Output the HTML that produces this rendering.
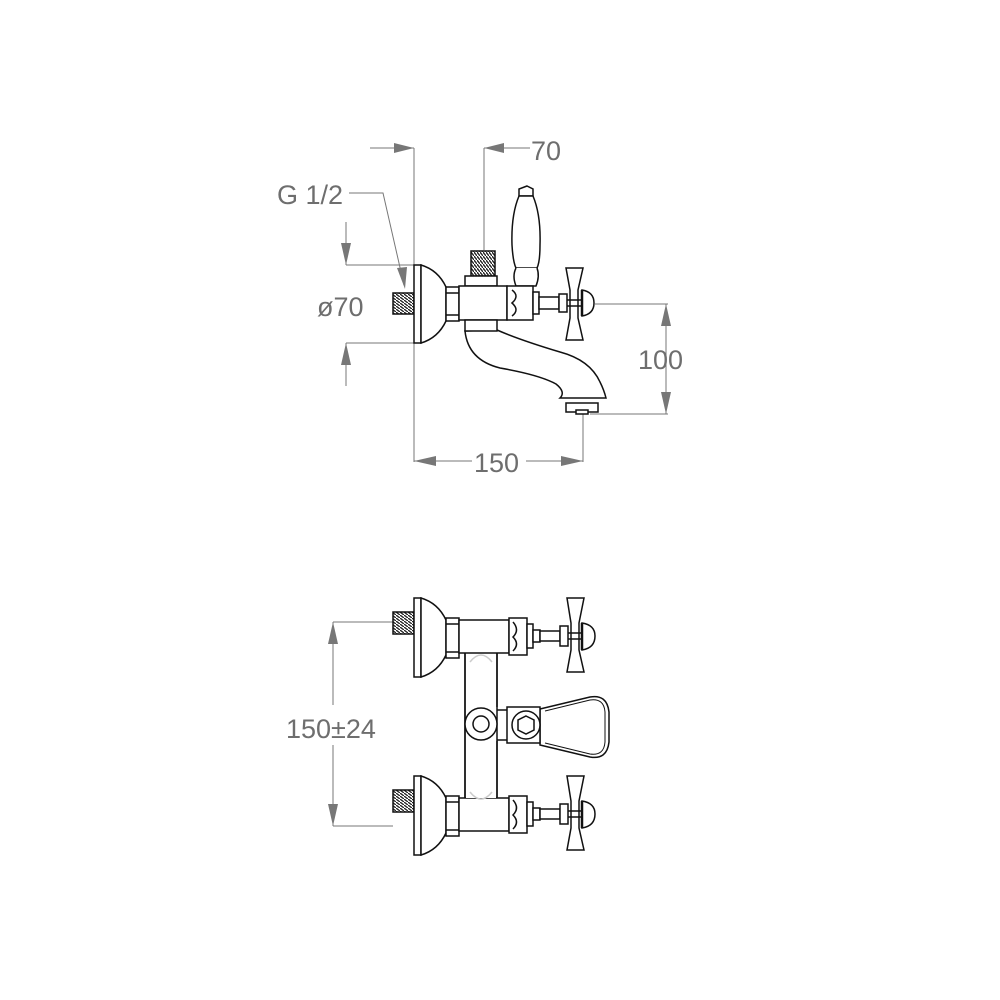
<!DOCTYPE html>
<html><head><meta charset="utf-8"><style>
html,body{margin:0;padding:0;background:#fff}
svg{display:block}
text{font-family:"Liberation Sans",Arial,sans-serif;fill:#6e6e6e;font-size:27px}
</style></head><body>
<svg width="1000" height="1000" viewBox="0 0 1000 1000" xmlns="http://www.w3.org/2000/svg">
<defs>
<pattern id="th" width="3" height="4" patternUnits="userSpaceOnUse"><rect width="3" height="4" fill="#fff"/><path d="M0,0 L3,4" stroke="#222" stroke-width="1.3"/></pattern>
<pattern id="thv" width="4" height="3" patternUnits="userSpaceOnUse"><rect width="4" height="3" fill="#fff"/><path d="M0,0 L4,3" stroke="#222" stroke-width="1.3"/></pattern>
</defs>
<g stroke="#777" stroke-width="1" fill="none">
<path d="M414,148 V462"/>
<path d="M370,148 H414"/>
<path d="M484,148 H530 M484,148 V250"/>
<path d="M349,193 H383 L404,285"/>
<path d="M346,222 V265 M346,265 H414 M346,343 H414 M346,343 V386"/>
<path d="M595,304 H668 M590,414 H668 M666,304 V414"/>
<path d="M414,461 H472 M526,461 H583 M583,414 V462"/>
<path d="M333,622 H393 M333,826 H393 M333,622 V705 M333,745 V826"/>
</g>
<g fill="#777">
<polygon points="414,148 394,143 394,153"/>
<polygon points="484,148 504,143 504,153"/>
<polygon points="405,289 397,268 407,267"/>
<polygon points="346,265 341,243 351,243"/>
<polygon points="346,343 341,365 351,365"/>
<polygon points="666,304 661,326 671,326"/>
<polygon points="666,414 661,392 671,392"/>
<polygon points="414,461 436,456 436,466"/>
<polygon points="583,461 561,456 561,466"/>
<polygon points="333,622 328,644 338,644"/>
<polygon points="333,826 328,804 338,804"/>
</g>
<text x="531" y="160">70</text>
<text x="277" y="204">G 1/2</text>
<text x="317" y="316">ø70</text>
<text x="638" y="369">100</text>
<text x="474" y="472">150</text>
<text x="286" y="738">150±24</text>

<g stroke="#111" stroke-width="1.5" fill="#fff">
<rect x="393" y="293" width="21" height="21" fill="url(#thv)"/>
<rect x="414" y="265" width="7" height="78"/>
<path d="M421,265 Q438,270 446,287 V321 Q438,338 421,343 Z"/>
<rect x="446" y="287" width="13" height="34"/>
<path d="M446,293 H459 M446,315 H459" fill="none"/>
<rect x="471" y="251" width="24" height="25" fill="url(#th)"/>
<rect x="465" y="276" width="32" height="10"/>
<path d="M465,331 Q468,360 500,368 Q540,375 556,384 Q566,392 560,398 H606 Q604,390 600,382 Q590,360 560,352 Q520,340 497,330 Z"/>
<rect x="459" y="286" width="48" height="34"/>
<rect x="465" y="320" width="32" height="11"/>
<path d="M527,186 L533,189 V196 H519 V189 Z"/>
<path d="M519,196 Q511,215 512,245 Q513,262 516,268 H537 Q540,262 540,245 Q541,215 533,196 Z"/>
<path d="M516,268 Q512,276 516,286 H536 Q540,276 537,268"/>
<rect x="507" y="286" width="26" height="34"/>
<path d="M512,290 Q520,296 512,303 Q520,310 512,316" fill="none"/>
<rect x="533" y="292" width="6" height="22"/>
<rect x="539" y="297" width="20" height="12"/>
<rect x="559" y="294" width="8" height="18"/>
<path d="M566,268 H583 L578,290 V318 L583,340 H566 L570,318 V290 Z"/>
<path d="M582,290 Q594,292 594,303 Q594,314 582,316 Z"/>
<path d="M582,290 V316" stroke-width="2.5"/>
<path d="M567,300 H582 M567,306 H582" fill="none"/>
<rect x="566" y="403" width="32" height="9"/>
<rect x="576" y="410" width="12" height="4"/>
</g>

<g stroke="#111" stroke-width="1.5" fill="#fff">
<rect x="465" y="652" width="32" height="150"/>
<path d="M540,709 L590,697 Q607,694 609,712 V742 Q607,760 590,757 L540,745 Z"/>
<path d="M545,711 L590,700 Q604,698 605,712 V742 Q604,756 590,754 L545,743" fill="none" stroke-width="1"/>
<rect x="507" y="707" width="33" height="36"/>
<path d="M497,710 H507 M497,740 H507" fill="none"/>
<circle cx="526" cy="725" r="14"/>
<polygon points="526,716 534,720 534,730 526,734 518,730 518,720"/>
</g>
<g stroke="#111" stroke-width="1.5" fill="#fff">
<rect x="393" y="612" width="21" height="22" fill="url(#thv)"/>
<rect x="414" y="598" width="7" height="79"/>
<path d="M421,598 Q438,603 446,620 V655 Q438,672 421,677 Z"/>
<rect x="446" y="618" width="13" height="40"/>
<path d="M446,624 H459 M446,652 H459" fill="none"/>
<rect x="459" y="620" width="50" height="33"/>
<rect x="509" y="618" width="18" height="37"/>
<path d="M513,622 Q520,630 513,637 Q520,644 513,651" fill="none"/>
<rect x="527" y="624" width="6" height="24"/>
<rect x="533" y="630" width="7" height="12"/>
<rect x="540" y="631" width="20" height="10"/>
<rect x="560" y="626" width="8" height="20"/>
<path d="M567,598 H584 L579,623 V650 L584,672 H567 L571,650 V623 Z"/>
<path d="M582,623 Q595,625 595,636 Q595,648 582,650 Z"/>
<path d="M582,623 V650" stroke-width="2.5"/>
<path d="M568,633 H582 M568,639 H582" fill="none"/>
</g>
<g stroke="#111" stroke-width="1.5" fill="#fff" transform="translate(0,178)">
<rect x="393" y="612" width="21" height="22" fill="url(#thv)"/>
<rect x="414" y="598" width="7" height="79"/>
<path d="M421,598 Q438,603 446,620 V655 Q438,672 421,677 Z"/>
<rect x="446" y="618" width="13" height="40"/>
<path d="M446,624 H459 M446,652 H459" fill="none"/>
<rect x="459" y="620" width="50" height="33"/>
<rect x="509" y="618" width="18" height="37"/>
<path d="M513,622 Q520,630 513,637 Q520,644 513,651" fill="none"/>
<rect x="527" y="624" width="6" height="24"/>
<rect x="533" y="630" width="7" height="12"/>
<rect x="540" y="631" width="20" height="10"/>
<rect x="560" y="626" width="8" height="20"/>
<path d="M567,598 H584 L579,623 V650 L584,672 H567 L571,650 V623 Z"/>
<path d="M582,623 Q595,625 595,636 Q595,648 582,650 Z"/>
<path d="M582,623 V650" stroke-width="2.5"/>
<path d="M568,633 H582 M568,639 H582" fill="none"/>
</g>
<g stroke="#111" stroke-width="1.5" fill="#fff">
<rect x="466" y="654" width="30" height="144" stroke="none"/>
<path d="M465,653 V798 M497,653 V707 M497,741 V798" fill="none"/>
<path d="M470,662 Q481,648 492,662 M470,792 Q481,806 492,792" stroke="#ccc" fill="none"/>
<circle cx="481" cy="724" r="16"/>
<circle cx="481" cy="724" r="8"/>
</g>
</svg>
</body></html>
